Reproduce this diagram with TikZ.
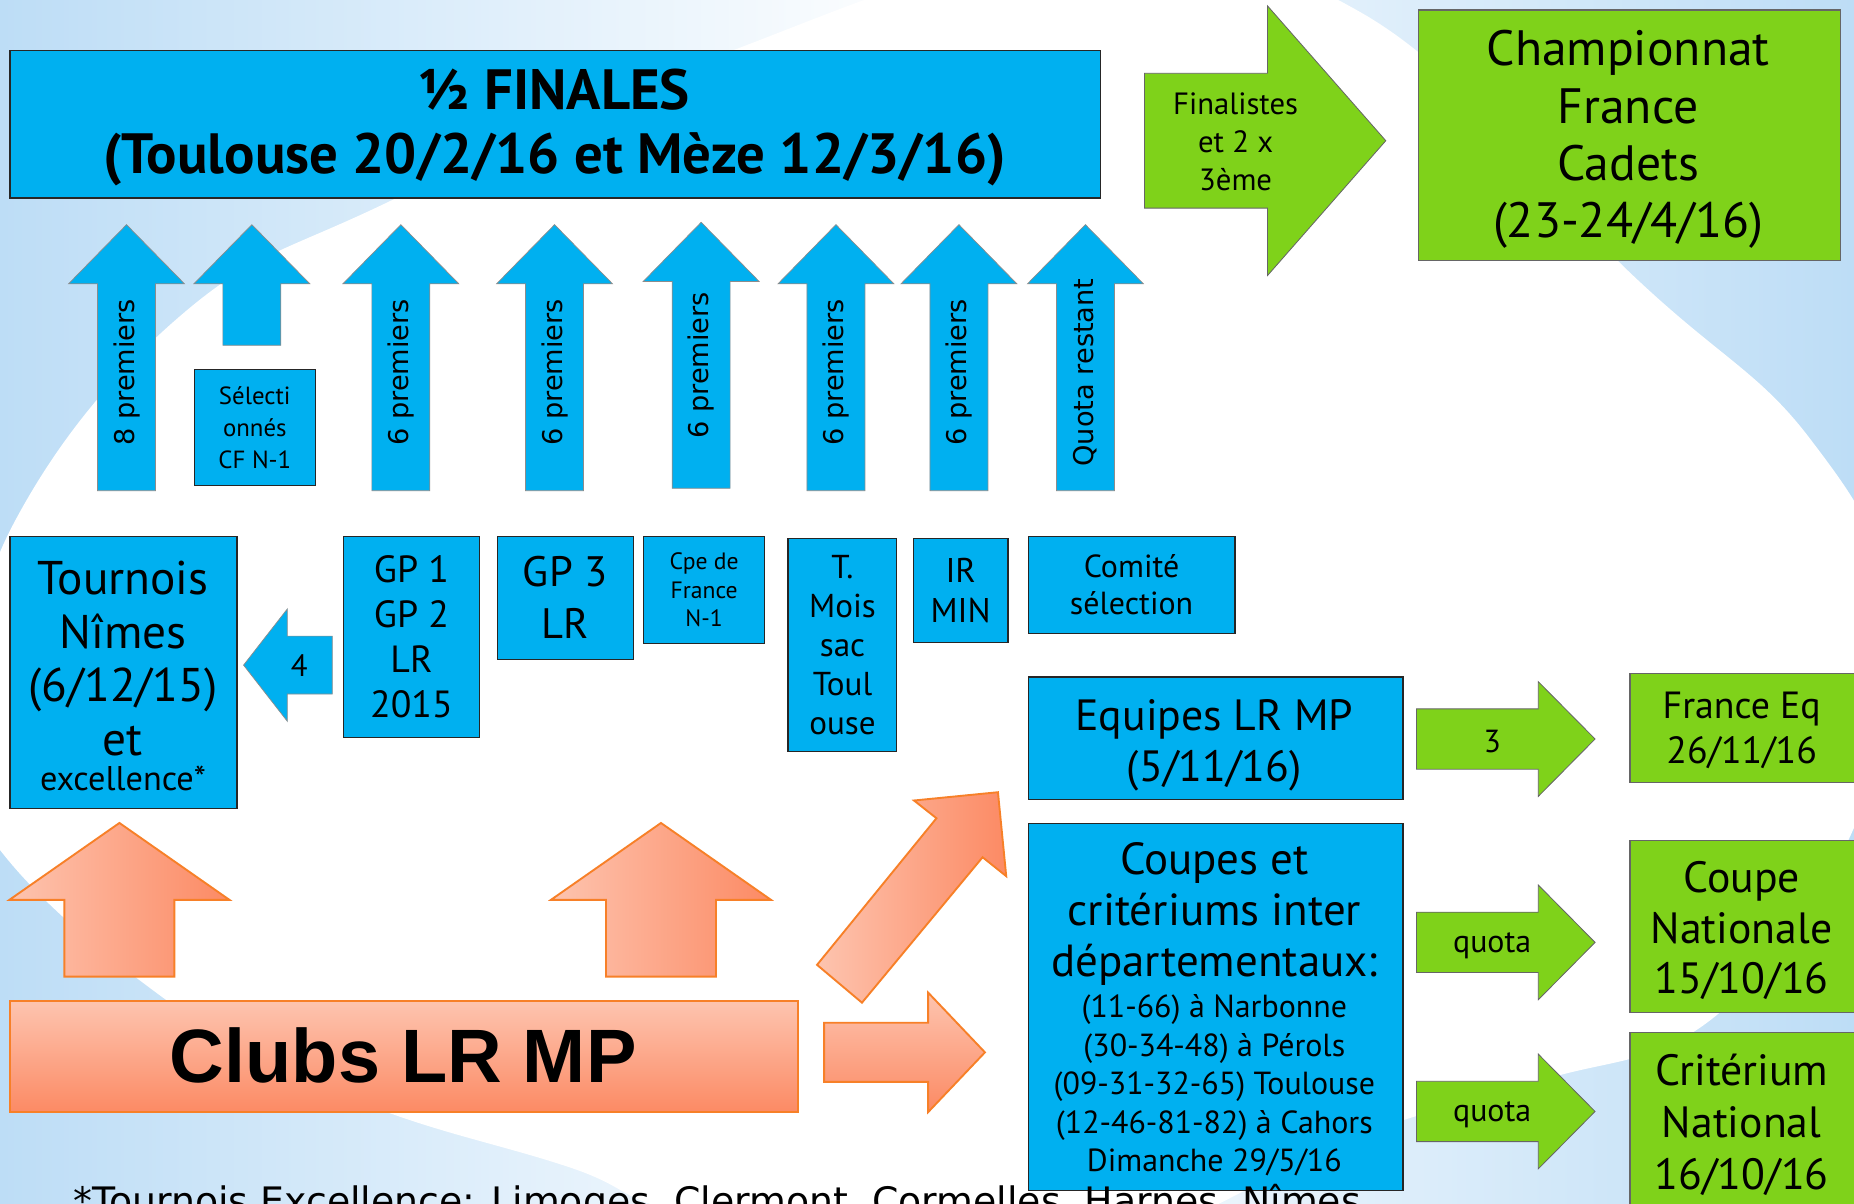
\documentclass[tikz,border=0pt]{standalone}
\usepackage{fontspec}
\setmainfont{PT Sans}
\newfontfamily\dvs{DejaVu Sans}
\newfontfamily\lib{Liberation Sans}
\definecolor{cyanB}{RGB}{0,176,240}
\definecolor{greenB}{RGB}{127,210,26}
\definecolor{bgB}{RGB}{189,221,246}
\definecolor{orL}{RGB}{253,196,175}
\definecolor{orD}{RGB}{252,138,100}
\definecolor{orE}{RGB}{247,128,40}
\newcommand{\fsz}[2]{\fontsize{#1}{#2}\selectfont}
% block arrow pointing up: style, cx, tip y, head y, bottom y, shaft half, head half
\newcommand{\blkup}[7]{\path[#1] (#2,#3) -- ({#2+#7},#4) -- ({#2+#6},#4) -- ({#2+#6},#5) -- ({#2-#6},#5) -- ({#2-#6},#4) -- ({#2-#7},#4) -- cycle;}
% block arrow pointing horizontally: style, tip x, cy, head x, tail x, shaft half, head half
\newcommand{\blkright}[7]{\path[#1] (#2,#3) -- (#4,{#3+#7}) -- (#4,{#3+#6}) -- (#5,{#3+#6}) -- (#5,{#3-#6}) -- (#4,{#3-#6}) -- (#4,{#3-#7}) -- cycle;}
\begin{document}
\begin{tikzpicture}[x=1pt,y=-1pt,
 bbox/.style={draw=black!85, fill=cyanB, line width=1pt, inner sep=0pt, anchor=north west, align=center},
 gbox/.style={draw=black!60, fill=greenB, line width=1pt, inner sep=0pt, anchor=north west, align=center},
 txt/.style={align=center, inner sep=0pt, text=black},
 barr/.style={fill=cyanB, draw=black!45, line width=0.6pt},
 garr/.style={fill=greenB, draw=black!60, line width=0.7pt},
 oarr/.style={left color=orL, right color=orD, draw=orE, line width=1.6pt},
 oarrv/.style={top color=orL, bottom color=orD, draw=orE, line width=1.6pt},
 rot/.style={txt, rotate=90, font=\dvs\fsz{23}{28}},
]
\useasboundingbox (0,0) rectangle (1568,1018);
\clip (0,0) rectangle (1568,1018);
% background
\shade[left color=bgB, right color=white] (0,0) rectangle (790,1018);
\shade[left color=white, right color=bgB] (780,0) rectangle (1568,1018);
\fill[white] plot[smooth cycle, tension=0.7] coordinates {(-25,600) (13,440) (155,265) (330,170) (600,50) (900,-40) (1150,10) (1380,232) (1530,370) (1600,520) (1568,700) (1450,860) (1300,915) (1150,960) (900,1060) (600,1030) (481,987) (300,930) (141,846) (-10,705)};

% semi-finals
\node[bbox, minimum width=922pt, minimum height=125pt] (semi) at (8,42) {};
\node[txt, font=\bfseries\fsz{48}{54}] (semiT) at (469,108) {½ FINALES\\(Toulouse 20/2/16 et Mèze 12/3/16)};
% finalists arrow
\blkright{garr}{1172}{119}{1072}{968}{57}{114}
\node[txt, font=\fsz{26}{32}] (fin) at (1045,120) {Finalistes\\et 2 x\\3ème};
\node[gbox, minimum width=357pt, minimum height=212pt] (cfc) at (1199,8) {};
\node[txt, font=\fsz{42}{48.5}] (cfcT) at (1377,118) {Championnat\\France\\Cadets\\(23-24/4/16)};

% blue up arrows
\blkup{barr}{107}{190}{240}{415}{24.5}{49}
\blkup{barr}{213}{190}{240}{292}{24.5}{49}
\blkup{barr}{339}{190}{240}{415}{24.5}{49}
\blkup{barr}{469}{190}{240}{415}{24.5}{49}
\blkup{barr}{593}{188}{238}{413}{24.5}{49}
\blkup{barr}{707}{190}{240}{415}{24.5}{49}
\blkup{barr}{811}{190}{240}{415}{24.5}{49}
\blkup{barr}{918}{190}{240}{415}{24.5}{49}
\node[rot] (p1) at (107,315) {8 premiers};
\node[rot] (p3) at (339,315) {6 premiers};
\node[rot] (p4) at (469,315) {6 premiers};
\node[rot] (p5) at (593,309) {6 premiers};
\node[rot] (p6) at (707,315) {6 premiers};
\node[rot] (p7) at (811,315) {6 premiers};
\node[rot] (p8) at (918,315) {Quota restant};
\node[bbox, minimum width=102pt, minimum height=98pt, font=\fsz{21}{27}] (sel) at (164,312) {Sélecti\\onnés\\CF N-1};

% middle row
\node[bbox, minimum width=192pt, minimum height=230pt] (nimes) at (8,453) {};
\node[txt, font=\fsz{40}{45.5}] (nimesT) at (104,557) {Tournois\\Nîmes\\(6/12/15)\\et};
\node[txt, font=\fsz{29}{32}] (exc) at (104,658) {excellence*};
\blkright{barr}{206}{562.5}{243}{281}{24.5}{47.5}
\node[txt, font=\fsz{26}{30}] (four) at (253,563) {4};
\node[bbox, minimum width=115pt, minimum height=170pt, font=\fsz{32}{38}] (gp12) at (290,453) {GP 1\\GP 2\\LR\\2015};
\node[bbox, minimum width=115pt, minimum height=104pt, font=\fsz{36}{44}] (gp3) at (420,453) {GP 3\\LR};
\node[bbox, minimum width=102pt, minimum height=91pt, font=\fsz{20}{24}] (cpe) at (544,453) {Cpe de\\France\\N-1};
\node[bbox, minimum width=92pt, minimum height=180pt, font=\fsz{28}{33}] (tmois) at (666,455) {T.\\Mois\\sac\\Toul\\ouse};
\node[bbox, minimum width=80pt, minimum height=88pt, font=\fsz{29}{34}] (irmin) at (772,455) {IR\\MIN};
\node[bbox, minimum width=175pt, minimum height=82pt, font=\fsz{27}{32}] (comite) at (869,453) {Comité\\sélection};

% right column
\node[bbox, minimum width=317pt, minimum height=104pt] (equipes) at (869,572) {};
\node[txt, font=\fsz{37}{43}] (equipesT) at (1027,630) {Equipes LR MP\\(5/11/16)};
\node[bbox, minimum width=317pt, minimum height=310pt] (coupes) at (869,696) {};
\node[txt, font=\fsz{38}{43}] (coupesA) at (1027,773) {Coupes et\\critériums inter\\départementaux:};
\node[txt, font=\fsz{27}{32.5}] (coupesB) at (1027,918) {(11-66) à Narbonne\\(30-34-48) à Pérols\\(09-31-32-65) Toulouse\\(12-46-81-82) à Cahors\\Dimanche 29/5/16};

\blkright{garr}{1349}{625}{1301}{1198}{25.5}{48.5}
\node[txt, font=\fsz{27}{32}] (three) at (1262,627) {3};
\blkright{garr}{1349}{797}{1301}{1198}{25.5}{48.5}
\node[txt, font=\fsz{27}{32}] (quota1) at (1262,800) {quota};
\blkright{garr}{1349}{940}{1301}{1198}{25.5}{48.5}
\node[txt, font=\fsz{27}{32}] (quota2) at (1262,943) {quota};

\node[gbox, minimum width=210pt, minimum height=92pt] (franceEq) at (1378,569) {};
\node[txt, font=\fsz{32}{38}] (franceEqT) at (1473,618) {France Eq\\26/11/16};
\node[gbox, minimum width=210pt, minimum height=146pt] (cn) at (1378,710) {};
\node[txt, font=\fsz{37}{43}] (cnT) at (1473,787) {Coupe\\Nationale\\15/10/16};
\node[gbox, minimum width=210pt, minimum height=170pt] (crit) at (1378,873) {};
\node[txt, font=\fsz{37}{44}] (critT) at (1473,951) {Critérium\\National\\16/10/16};

% orange arrows and clubs
\blkup{oarr}{101}{696}{761}{826}{46.5}{93}
\blkup{oarr}{559}{696}{761}{826}{46.5}{93}
\path[oarr] (691,816) -- (792,692) -- (773,677) -- (844,670) -- (851,741) -- (831,725) -- (729,848) -- cycle;
\blkright{oarrv}{833}{890}{785}{697}{25}{50.5}
\node[draw=orE, line width=1.6pt, top color=orL, bottom color=orD, minimum width=666pt, minimum height=94pt, anchor=north west, inner sep=0pt] (clubs) at (8,846) {};
\node[txt, font=\lib\bfseries\fsz{64}{70}] (clubsT) at (341,893) {Clubs LR MP};

\node[anchor=base west, inner sep=0pt, font=\dvs\fsz{32}{38}] (note) at (62,1027) {*Tournois Excellence: Limoges, Clermont, Cormelles, Harnes, Nîmes};
\end{tikzpicture}
\end{document}
